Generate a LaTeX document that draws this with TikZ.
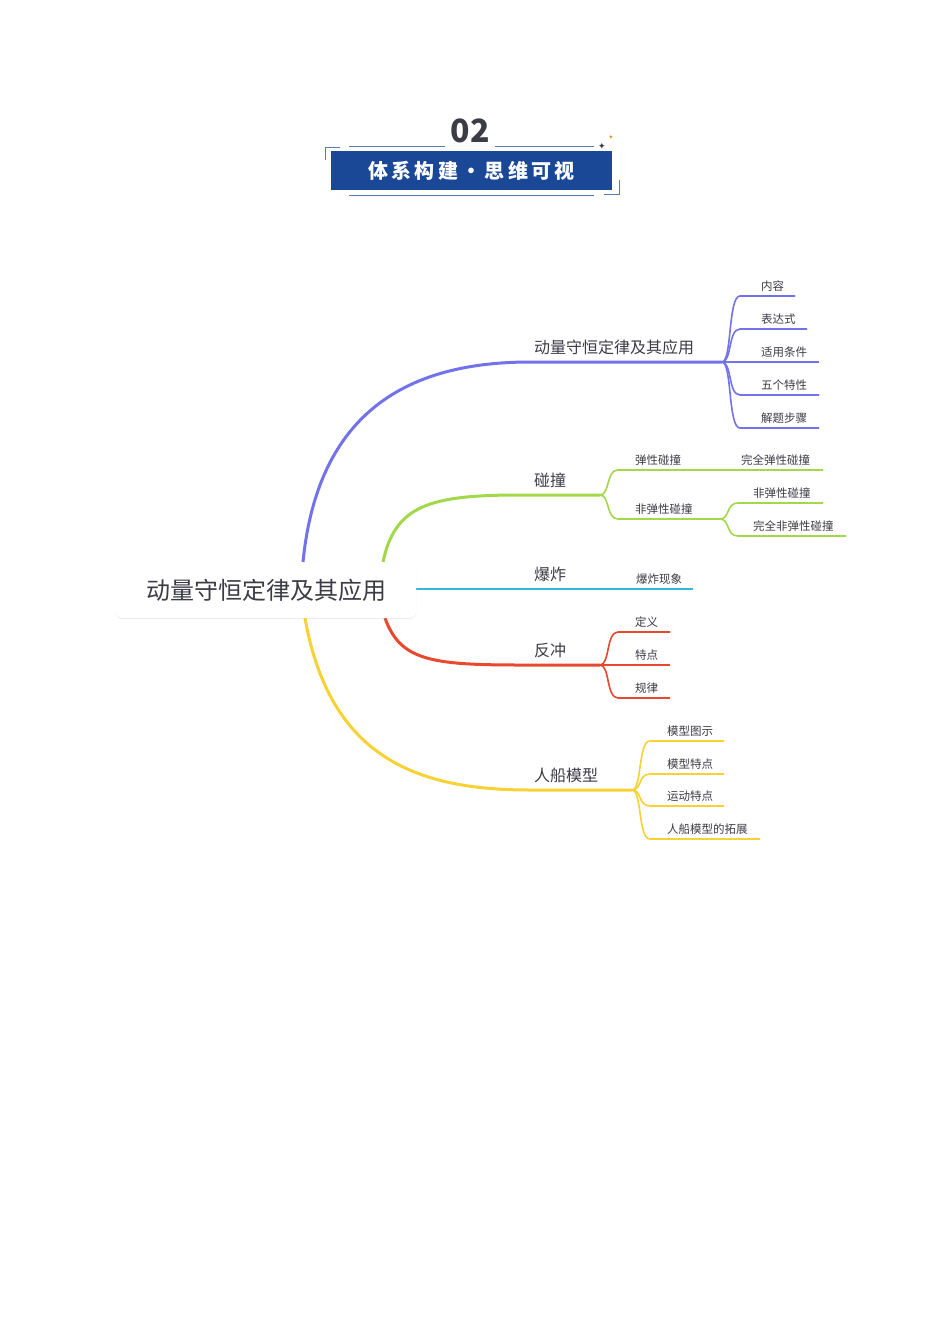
\documentclass[tikz,border=0pt]{standalone}
\usepackage{fontspec}
\setmainfont{Noto Sans CJK SC}
\newfontfamily\symf{DejaVu Sans}
\usetikzlibrary{shadows}
\definecolor{cP}{HTML}{7272EA}
\definecolor{cG}{HTML}{A2D84A}
\definecolor{cC}{HTML}{33B8D6}
\definecolor{cR}{HTML}{E8482E}
\definecolor{cY}{HTML}{F8D234}
\definecolor{txt}{HTML}{3C3C46}
\definecolor{ban}{HTML}{1B4797}
\definecolor{frm}{HTML}{5C7AB0}
\newcommand{\myfork}[9]{%
  \coordinate (#9s) at (#2,#3); \coordinate (#9e) at (#6,#5);
  \draw[#1,line width=1.6pt] (#9s) .. controls (#2+10,#3) and (#2+6,#5) .. (#2+18,#5) -- (#9e);
  \node[leaf,anchor=south west] (#9) at (#8,#5-3) {#7};}
\begin{document}
\begin{tikzpicture}[x=1pt,y=-1pt,
  leaf/.style={text=txt,font=\fontsize{11.5}{12}\selectfont,inner sep=1pt},
  lvl/.style={text=txt,font=\fontsize{16}{17}\selectfont,inner sep=1pt}]
\path[fill=white] (0,0) rectangle (950,1344);
% header
\node[text=txt,font=\bfseries\fontsize{32}{32}\selectfont] (num) at (470,131) {02};
\draw[frm,line width=0.8pt] (349,146) -- (445,146) (495,146) -- (594,146) (349,195) -- (594,195);
\node[fill=ban,minimum width=281pt,minimum height=39pt,inner sep=0,text=white,font=\bfseries\fontsize{20}{20}\selectfont] (banner) at (471.5,170.5) {体\,系\,构\,建\,·\,思\,维\,可\,视};
\draw[frm,line width=1pt] (325,160) -- (325,147) -- (340,147) (619,180) -- (619,194) -- (604,194);
\node[text=txt,font=\symf\fontsize{9}{9}\selectfont,inner sep=0] (st1) at (602,146) {✦};
\node[text=orange,font=\symf\fontsize{6}{6}\selectfont,inner sep=0] (st2) at (611,137) {✦};
% branches
\coordinate (pS) at (303,562); \coordinate (pE) at (722,362);
\draw[cP,line width=3pt] (pS) .. controls (318,410) and (410,362) .. (530,362) -- (pE);
\node[lvl,anchor=south west] (pL) at (533,356) {动量守恒定律及其应用};
\coordinate (gS) at (383,562); \coordinate (gE) at (600,495);
\draw[cG,line width=3pt] (gS) .. controls (395,505) and (430,495) .. (520,495) -- (gE);
\node[lvl,anchor=south west] (gL) at (533,489) {碰撞};
\coordinate (cS) at (416,589); \coordinate (cE) at (693,589);
\draw[cC,line width=2.2pt] (cS) -- (cE);
\node[lvl,anchor=south west] (cL) at (533,583) {爆炸};
\node[leaf,anchor=south west] (cL2) at (635,586) {爆炸现象};
\coordinate (rS) at (385,618); \coordinate (rE) at (600,665);
\draw[cR,line width=3pt] (rS) .. controls (400,660) and (430,665) .. (520,665) -- (rE);
\node[lvl,anchor=south west] (rL) at (533,659) {反冲};
\coordinate (yS) at (305,618); \coordinate (yE) at (632,790);
\draw[cY,line width=3pt] (yS) .. controls (330,760) and (420,790) .. (530,790) -- (yE);
\node[lvl,anchor=south west] (yL) at (533,784) {人船模型};
% root
\node[fill=white,rounded corners=6pt,drop shadow={opacity=0.15,shadow xshift=0pt,shadow yshift=-1pt},minimum width=300pt,minimum height=55pt,text=txt,font=\fontsize{24}{25}\selectfont] (root) at (266,590.5) {动量守恒定律及其应用};
% purple leaves
\myfork{cP}{722}{362}{0}{296}{795}{内容}{760}{p1}
\myfork{cP}{722}{362}{0}{329}{807}{表达式}{760}{p2}
\myfork{cP}{722}{362}{0}{362}{819}{适用条件}{760}{p3}
\myfork{cP}{722}{362}{0}{395}{819}{五个特性}{760}{p4}
\myfork{cP}{722}{362}{0}{428}{819}{解题步骤}{760}{p5}
% green
\myfork{cG}{600}{495}{0}{470}{823}{弹性碰撞}{634}{g1}
\node[leaf,anchor=south west] (g1b) at (740,467) {完全弹性碰撞};
\myfork{cG}{600}{495}{0}{519}{720}{非弹性碰撞}{634}{g2}
\myfork{cG}{720}{519}{0}{503}{823}{非弹性碰撞}{752}{g3}
\myfork{cG}{720}{519}{0}{536}{846}{完全非弹性碰撞}{752}{g4}
% red
\myfork{cR}{600}{665}{0}{632}{670}{定义}{634}{r1}
\myfork{cR}{600}{665}{0}{665}{670}{特点}{634}{r2}
\myfork{cR}{600}{665}{0}{698}{670}{规律}{634}{r3}
% yellow
\myfork{cY}{632}{790}{0}{741}{724}{模型图示}{666}{y1}
\myfork{cY}{632}{790}{0}{774}{724}{模型特点}{666}{y2}
\myfork{cY}{632}{790}{0}{806}{724}{运动特点}{666}{y3}
\myfork{cY}{632}{790}{0}{839}{760}{人船模型的拓展}{666}{y4}
\end{tikzpicture}
\end{document}
